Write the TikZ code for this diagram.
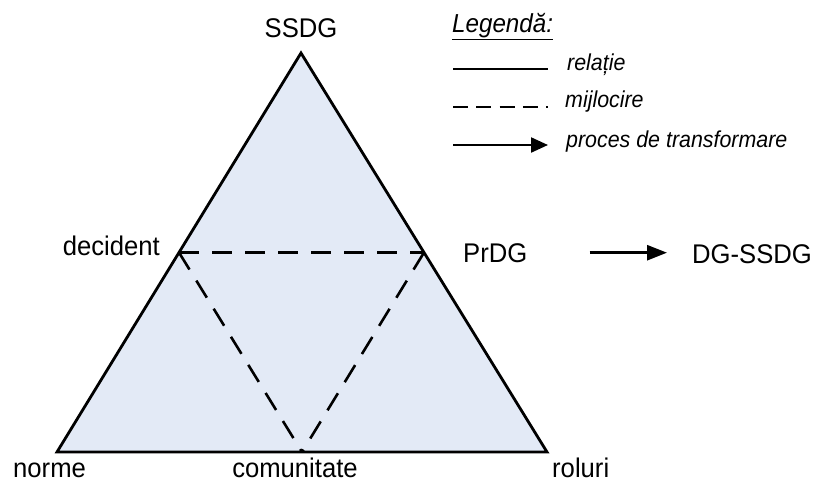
\documentclass[tikz,border=0pt]{standalone}
\usepackage{fontspec}
\setmainfont{Liberation Sans}[FakeStretch=0.95]
\newfontfamily\legendfont{Liberation Sans}[FakeStretch=0.93]
\usetikzlibrary{arrows.meta}
\definecolor{trifill}{RGB}{227,234,246}
\begin{document}
\begin{tikzpicture}[x=1pt,y=-1pt,
  lbl/.style={font=\fontsize{27}{30}\selectfont, inner sep=0pt},
  leg/.style={font=\legendfont\itshape\fontsize{23}{26}\selectfont, inner sep=0pt, anchor=base west},
  side/.style={line width=2.8pt, line join=miter},
  midline/.style={line width=2.6pt, dash pattern=on 20pt off 13pt},
  legline/.style={line width=2.2pt},
  legdash/.style={line width=2.2pt, dash pattern=on 15pt off 8.3pt},
  tip/.style={-{Triangle[length=17pt,width=15pt]}},
  bigtip/.style={-{Triangle[length=20pt,width=15pt]}}]
\useasboundingbox (0,0) rectangle (816,482);

% corners and side midpoints of the triangle
\coordinate (top) at (301,53);
\coordinate (bl) at (57,452);
\coordinate (br) at (547,452);
\coordinate (ml) at (179,252.5);
\coordinate (mr) at (424,252.5);
\coordinate (mb) at (302,452);

\fill[trifill] (top) -- (bl) -- (br) -- cycle;
\draw[midline] (ml) -- (mr);
\draw[midline] (ml) -- (mb);
\draw[midline] (mr) -- (mb);
\draw[side] (top) -- (bl) -- (br) -- cycle;

% vertex labels
\node[lbl, anchor=base] (ssdg) at (301,37) {SSDG};
\node[lbl, anchor=base east] (dec) at (160,255) {decident};
\node[lbl, anchor=base west] (prdg) at (463,262) {PrDG};
\node[lbl, anchor=base west] (dg) at (692,263) {DG-SSDG};
\node[lbl, anchor=base west] (norme) at (13,477) {norme};
\node[lbl, anchor=base] (com) at (295,477) {comunitate};
\node[lbl, anchor=base west] (rol) at (552,477) {roluri};

\draw[line width=2.7pt, bigtip, shorten <=62pt, shorten >=25pt] (prdg.east) -- (prdg.east -| dg.west);

% legend
\node[leg, font=\legendfont\itshape\fontsize{26}{28}\selectfont] (legtitle) at (452,32) {\underline{Legendă:}};
\node[leg] (rel) at (567,70) {relație};
\node[leg] (mij) at (565,107) {mijlocire};
\node[leg] (proc) at (566,147) {proces de transformare};
\coordinate (s1) at (453,69);
\coordinate (s2) at (453,107);
\coordinate (s3) at (453,145);
\draw[legline] (s1) -- (s1 -| rel.west) [shorten >=19pt];
\draw[legdash] (s2) -- (s2 -| mij.west) [shorten >=17pt];
\draw[legline, tip, shorten >=18pt] (s3) -- (s3 -| proc.west);
\end{tikzpicture}
\end{document}
